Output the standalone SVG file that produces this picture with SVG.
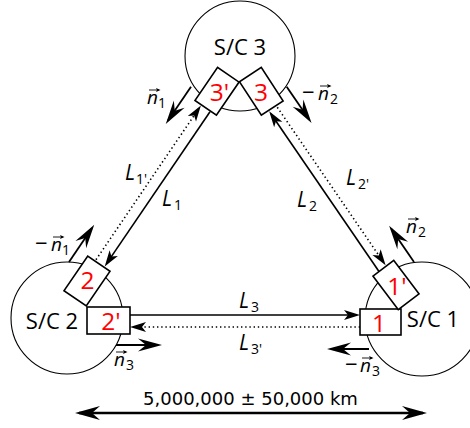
<svg xmlns="http://www.w3.org/2000/svg" width="470" height="428" viewBox="0 0 470 428">
<defs>
<style>
.circ{fill:none;stroke:#000;stroke-width:1.1}
.box{fill:#fff;stroke:#000;stroke-width:1.6}
.sol{fill:none;stroke:#000;stroke-width:1.6;marker-end:url(#hl)}
.dot{fill:none;stroke:#000;stroke-width:1.6;stroke-dasharray:1.4 2.8;marker-end:url(#hl)}
.nv{fill:none;stroke:#000;stroke-width:1.8;marker-end:url(#hn)}
.va{fill:none;stroke:#000;stroke-width:0.9;marker-end:url(#hv)}
.sc{font-family:"Open Sans","DejaVu Sans",sans-serif;font-size:22px;text-anchor:middle;fill:#000}
.rn{font-family:"Open Sans","DejaVu Sans",sans-serif;font-size:24.5px;text-anchor:middle;fill:#ff0000}
.lab{font-family:"Open Sans","DejaVu Sans",sans-serif;font-size:21px;font-style:italic;fill:#000}
.nl{font-family:"Open Sans","DejaVu Sans",sans-serif;font-size:19px;font-style:italic;fill:#000}
.sb{font-family:"Open Sans","DejaVu Sans",sans-serif;font-size:14px;font-style:normal;fill:#000}
.mn{font-family:"Open Sans","DejaVu Sans",sans-serif;font-size:22px;fill:#000}
.dist{font-family:"DejaVu Sans",sans-serif;font-size:18px;text-anchor:middle;fill:#000}
</style>
<marker id="hl" markerUnits="userSpaceOnUse" orient="auto" refX="0" refY="0" markerWidth="30" markerHeight="30" overflow="visible">
<path d="M3,0 L-13,-5 L-9,0 L-13,5 Z" fill="#000"/>
</marker>
<marker id="hn" markerUnits="userSpaceOnUse" orient="auto" refX="0" refY="0" markerWidth="30" markerHeight="30" overflow="visible">
<path d="M4,0 L-20,-6.5 L-12,0 L-20,6.5 Z" fill="#000"/>
</marker>
<marker id="hb" markerUnits="userSpaceOnUse" orient="auto-start-reverse" refX="0" refY="0" markerWidth="30" markerHeight="30" overflow="visible">
<path d="M4,0 L-21,-7 L-13,0 L-21,7 Z" fill="#000"/>
</marker>
<marker id="hv" markerUnits="userSpaceOnUse" orient="auto" refX="0" refY="0" markerWidth="10" markerHeight="10" overflow="visible">
<path d="M1.5,0 L-3,-2 L-2,0 L-3,2 Z" fill="#000"/>
</marker>
</defs>
<rect width="470" height="428" fill="#fff"/>

<g id="sc3">
<circle class="circ" cx="240" cy="56" r="55"/>
<text class="sc" x="240" y="55">S/C 3</text>
</g>
<g id="sc2">
<circle class="circ" cx="67" cy="318" r="56"/>
<text class="sc" x="52" y="329">S/C 2</text>
</g>
<g id="sc1">
<circle class="circ" cx="422" cy="319" r="57"/>
<text class="sc" x="433" y="327">S/C 1</text>
</g>

<g id="box3p">
<rect class="box" x="-20" y="-13" width="40" height="26" transform="translate(217,91.3) rotate(-55.6)"/>
<text class="rn" x="219.5" y="101">3'</text>
</g>
<g id="box3">
<rect class="box" x="-20" y="-13" width="40" height="26" transform="translate(261.3,91.3) rotate(56.9)"/>
<text class="rn" x="261" y="101">3</text>
</g>
<g id="box2">
<rect class="box" x="-21" y="-13.5" width="42" height="27" transform="translate(87,281) rotate(-55.6)"/>
<text class="rn" x="87.5" y="289">2</text>
</g>
<g id="box2p">
<rect class="box" x="87" y="307" width="43" height="27"/>
<text class="rn" x="111" y="330">2'</text>
</g>
<g id="box1">
<rect class="box" x="360" y="309" width="41" height="26"/>
<text class="rn" x="379" y="332">1</text>
</g>
<g id="box1p">
<rect class="box" x="-21" y="-13" width="42" height="26" transform="translate(396,285) rotate(53)"/>
<text class="rn" x="397" y="295">1'</text>
</g>

<g id="connectors">
<path class="sol" d="M210,111.7 L106.4,263.9"/>
<path class="dot" d="M96,259.7 L199.2,108"/>
<path class="sol" d="M379,271.5 L270.9,113.8"/>
<path class="dot" d="M277.3,107.3 L383.9,262.8"/>
<path class="sol" d="M130,315 L357,315"/>
<path class="dot" d="M360,327 L133,327"/>
<path class="nv" d="M191,86.7 L168,120.6"/>
<path class="nv" d="M69,262 L92,228.1"/>
<path class="nv" d="M414,262 L391.4,229"/>
<path class="nv" d="M286.7,86.7 L309.3,119.7"/>
<path class="nv" d="M116,345 L158,345"/>
<path class="nv" d="M369,349 L331,349"/>
<path d="M79,413 L423,413" fill="none" stroke="#000" stroke-width="2.6" marker-start="url(#hb)" marker-end="url(#hb)"/>
</g>

<g id="labels">
<text class="lab" x="162" y="206">L</text><text class="sb" x="174" y="210">1</text>
<text class="lab" x="125" y="180">L</text><text class="sb" x="136" y="184">1'</text>
<text class="lab" x="297" y="207">L</text><text class="sb" x="309" y="211">2</text>
<text class="lab" x="346" y="185">L</text><text class="sb" x="358" y="189">2'</text>
<text class="lab" x="239" y="308">L</text><text class="sb" x="251" y="312">3</text>
<text class="lab" x="239" y="350">L</text><text class="sb" x="251" y="354">3'</text>

<text class="nl" x="147" y="104">n</text><text class="sb" x="158" y="108">1</text>
<path class="va" d="M149,90 L159,90"/>
<text class="mn" x="35" y="251">−</text><text class="nl" x="51" y="251">n</text><text class="sb" x="62" y="255">1</text>
<path class="va" d="M53,237 L63,237"/>
<text class="nl" x="406" y="233">n</text><text class="sb" x="418" y="237">2</text>
<path class="va" d="M408,219 L418,219"/>
<text class="mn" x="302" y="100">−</text><text class="nl" x="318" y="100">n</text><text class="sb" x="330" y="104">2</text>
<path class="va" d="M320,86 L330,86"/>
<text class="nl" x="114" y="366">n</text><text class="sb" x="126" y="370">3</text>
<path class="va" d="M116,352 L126,352"/>
<text class="mn" x="345" y="372">−</text><text class="nl" x="360" y="372">n</text><text class="sb" x="372" y="376">3</text>
<path class="va" d="M362,358 L372,358"/>

<text class="dist" x="250.5" y="405">5,000,000 ± 50,000 km</text>
</g>
</svg>
